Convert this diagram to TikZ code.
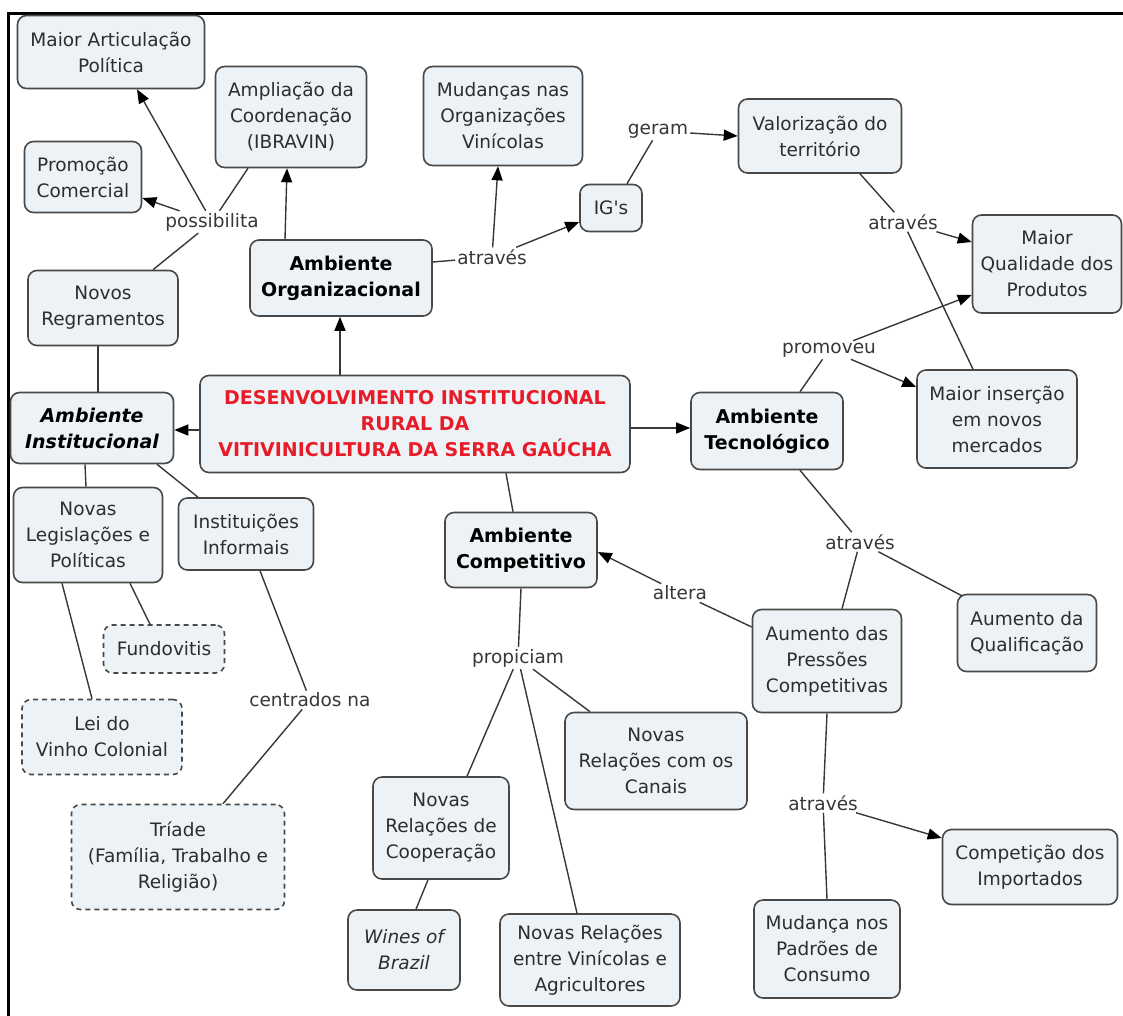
\documentclass[tikz,border=0pt]{standalone}
\usepackage{fontspec}
\setmainfont{DejaVu Sans}
\usetikzlibrary{arrows.meta}
\definecolor{boxfill}{RGB}{236,242,245}
\definecolor{boxline}{RGB}{72,72,72}
\definecolor{txt}{RGB}{45,45,45}
\definecolor{linkc}{RGB}{55,55,55}
\definecolor{titlered}{RGB}{232,28,40}

\begin{document}
\begin{tikzpicture}[x=1pt,y=-1pt,
  concept/.style={draw=boxline, line width=1.6pt, fill=boxfill, rounded corners=9pt,
    align=center, text=txt, inner sep=0pt,
    font=\fontsize{18.5}{26}\selectfont},
  sz/.style 2 args={minimum width=#1pt, minimum height=#2pt},
  dconcept/.style={concept, dash pattern=on 5pt off 4pt},
  keyc/.style={concept, text=black, font=\fontsize{19}{26}\selectfont\bfseries},
  link/.style={text=linkc, inner sep=2pt, font=\fontsize{18.5}{26}\selectfont},
  conn/.style={draw=linkc, line width=1.4pt},
  arr/.style={conn, -{Triangle[length=14pt,width=11pt,color=black]}},
]
\useasboundingbox (0,0) rectangle (1123,1015);

% frame (top and left edges)
\coordinate (fbl) at (8,1016);
\coordinate (ftl) at (8,13);
\coordinate (ftr) at (1124,13);
\draw[line width=3pt] (fbl) -- (ftl) -- (ftr);

% ---------- concepts ----------
\node[concept, sz={187}{73}] (maior) at (111,52) {Maior Articulação\\Política};
\node[concept, sz={151}{101}] (ampl) at (291,117) {Ampliação da\\Coordenação\\(IBRAVIN)};
\node[concept, sz={117}{71}] (promo) at (83,177) {Promoção\\Comercial};
\node[concept, sz={150}{75}] (regr) at (103,308) {Novos\\Regramentos};
\node[keyc, sz={182}{76}] (org) at (341,278) {Ambiente\\Organizacional};
\node[concept, sz={159}{99}] (mud) at (503,116) {Mudanças nas\\Organizações\\Vinícolas};
\node[concept, sz={62}{47}] (igs) at (611,208) {IG\textquotesingle s};
\node[concept, sz={163}{74}] (val) at (820,136) {Valorização do\\território};
\node[concept, sz={149}{98}] (mq) at (1047,264) {Maior\\Qualidade dos\\Produtos};
\node[concept, sz={160}{98}] (mi) at (997,419) {Maior inserção\\em novos\\mercados};
\node[keyc, sz={152}{77}] (tec) at (767,431) {Ambiente\\Tecnológico};
\node[concept, sz={430}{97}, text=titlered, font=\fontsize{19}{26}\selectfont\bfseries]
  (central) at (415,424) {DESENVOLVIMENTO INSTITUCIONAL\\RURAL DA\\VITIVINICULTURA DA SERRA GAÚCHA};
\node[keyc, sz={163}{71}, font=\fontsize{19}{26}\selectfont\bfseries\itshape] (inst) at (92,428) {Ambiente\\Institucional};
\node[concept, sz={149}{95}] (leg) at (88,535) {Novas\\Legislações e\\Políticas};
\node[concept, sz={135}{72}] (inf) at (246,534) {Instituições\\Informais};
\node[dconcept, sz={121}{48}] (fund) at (164,649) {Fundovitis};
\node[dconcept, sz={160}{75}] (lei) at (102,737) {Lei do\\Vinho Colonial};
\node[dconcept, sz={213}{105}] (tri) at (178,857) {Tríade\\(Família, Trabalho e\\Religião)};
\node[keyc, sz={152}{75}] (comp) at (521,550) {Ambiente\\Competitivo};
\node[concept, sz={149}{103}] (pres) at (827,661) {Aumento das\\Pressões\\Competitivas};
\node[concept, sz={139}{77}] (qual) at (1027,633) {Aumento da\\Qualificação};
\node[concept, sz={175}{75}] (compi) at (1030,867) {Competição dos\\Importados};
\node[concept, sz={146}{98}] (mudc) at (827,949) {Mudança nos\\Padrões de\\Consumo};
\node[concept, sz={182}{97}] (can) at (656,761) {Novas\\Relações com os\\Canais};
\node[concept, sz={136}{102}] (coop) at (441,828) {Novas\\Relações de\\Cooperação};
\node[concept, sz={112}{80}, font=\fontsize{18.5}{26}\selectfont\itshape] (wines) at (404,950) {Wines of\\Brazil};
\node[concept, sz={180}{92}] (agr) at (590,960) {Novas Relações\\entre Vinícolas e\\Agricultores};

% ---------- linking phrases ----------
\node[link] (p1) at (212,222) {possibilita};
\node[link] (a1) at (492,257) {através};
\node[link] (geram) at (658,131) {geram};
\node[link] (a2) at (903,222) {através};
\node[link] (prom) at (829,350) {promoveu};
\node[link] (alt) at (680,593) {altera};
\node[link] (propi) at (518,658) {propiciam};
\node[link] (a3) at (860,542) {através};
\node[link] (a4) at (823,803) {através};
\node[link] (cent) at (310,700) {centrados na};

% ---------- connectors ----------
\draw[conn] ([xshift=50pt]regr.north) -- (p1);
\draw[arr] (p1) -- ([xshift=26pt]maior.south);
\draw[arr] (p1) -- ([yshift=-21pt]promo.east);
\draw[conn] (p1) -- ([xshift=-43pt]ampl.south);
\draw[arr] ([xshift=-56pt]org.north) -- ([xshift=-4pt]ampl.south);
\draw[conn] ([yshift=16pt]org.east) -- (a1);
\draw[arr] (a1) -- ([xshift=-5pt]mud.south);
\draw[arr] (a1) -- ([yshift=-14pt]igs.west);
\draw[conn] ([xshift=16pt]igs.north) -- (geram);
\draw[arr] (geram) -- (val.west);
\draw[conn] ([xshift=40pt]val.south) -- (a2);
\draw[arr] (a2) -- ([yshift=22pt]mq.west);
\draw[conn] ([xshift=-24pt]mi.north) -- (a2);
\draw[conn] ([xshift=33pt]tec.north) -- (prom);
\draw[arr] (prom) -- ([yshift=-31pt]mq.west);
\draw[arr] (prom) -- ([yshift=32pt]mi.west);
\draw[arr] ([yshift=-4pt]central.east) -- ([yshift=3pt]tec.west);
\draw[arr] ([xshift=-75pt]central.north) -- ([xshift=-1pt]org.south);
\draw[arr] ([yshift=-6pt]central.west) -- ([yshift=-2pt]inst.east);
\draw[conn] ([xshift=91pt]central.south) -- ([xshift=-8pt]comp.north);
\draw[conn] ([xshift=-5pt]regr.south) -- ([xshift=6pt]inst.north);
\draw[conn] ([xshift=-7pt]inst.south) -- ([xshift=-2pt]leg.north);
\draw[conn] ([xshift=65pt]inst.south) -- ([xshift=-48pt]inf.north);
\draw[conn] ([xshift=42pt]leg.south) -- ([xshift=-14pt]fund.north);
\draw[conn] ([xshift=-26pt]leg.south) -- ([xshift=-10pt]lei.north);
\draw[conn] ([xshift=14pt]inf.south) -- (cent);
\draw[conn] (cent) -- ([xshift=45pt]tri.north);
\draw[conn] (comp.south) -- (propi);
\draw[conn] (propi) -- ([xshift=26pt]coop.north);
\draw[conn] (propi) -- ([xshift=-13pt]agr.north);
\draw[conn] (propi) -- ([xshift=-66pt]can.north);
\draw[conn] ([xshift=-13pt]coop.south) -- ([xshift=12pt]wines.north);
\draw[conn] ([yshift=34pt]pres.west) -- (alt);
\draw[arr] (alt) -- ([yshift=-2pt]comp.east);
\draw[conn] ([xshift=33pt]tec.south) -- (a3);
\draw[conn] (a3) -- ([xshift=15pt]pres.north);
\draw[conn] (a3) -- ([xshift=5pt,yshift=-2pt]qual.north west);
\draw[conn] (pres.south) -- (a4);
\draw[arr] (a4) -- ([yshift=29pt]compi.west);
\draw[conn] (a4) -- (mudc.north);
\end{tikzpicture}
\end{document}
